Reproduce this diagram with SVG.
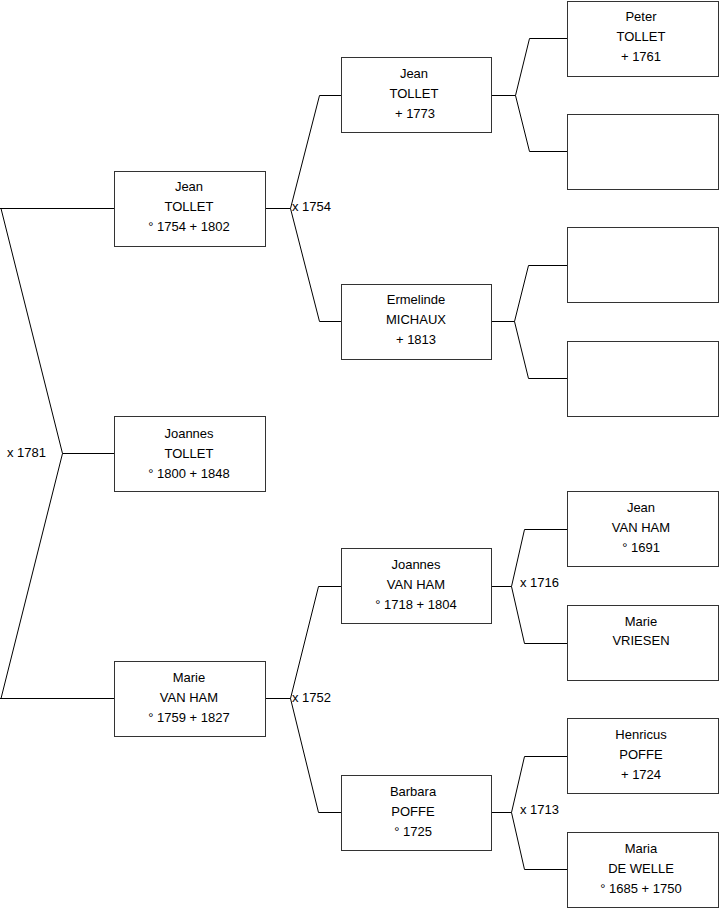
<svg xmlns="http://www.w3.org/2000/svg" width="719" height="908" viewBox="0 0 719 908">
<style>
.b{fill:#fff;stroke:#333;stroke-width:1}
.t{font-family:"Liberation Sans",Arial,sans-serif;font-size:13px;fill:#000;text-anchor:middle}
.l{font-family:"Liberation Sans",Arial,sans-serif;font-size:13px;fill:#000}
.c{fill:none;stroke:#000;stroke-width:1}
</style>
<rect width="719" height="908" fill="#fff"/>
<g id="connectors">
<path class="c" d="M0,208.5H114.5M1,208.5L62.5,453.5L1,698.5M62.5,453.5H114.5M0,698.5H114.5"/>
<path class="c" d="M265.5,208.5H290.5L319.5,95.5H341.5M290.5,208.5L319.5,321.5H341.5"/>
<path class="c" d="M265.5,698.5H290.5L318.5,586.5H341.5M290.5,698.5L318.5,812.5H341.5"/>
<path class="c" d="M491.5,95.5H515.5L529.5,38.5H567.5M515.5,95.5L529.5,151.5H567.5"/>
<path class="c" d="M491.5,321.5H514.5L528.5,265.5H567.5M514.5,321.5L528.5,378.5H567.5"/>
<path class="c" d="M491.5,586.5H511.5L524.5,529.5H567.5M511.5,586.5L524.5,643.5H567.5"/>
<path class="c" d="M491.5,812.5H511.5L524.5,756.5H567.5M511.5,812.5L524.5,869.5H567.5"/>
<text class="l" x="7" y="457">x 1781</text>
<text class="l" x="292" y="211">x 1754</text>
<text class="l" x="292" y="702">x 1752</text>
<text class="l" x="520" y="587">x 1716</text>
<text class="l" x="520" y="814">x 1713</text>
</g>
<g id="n-jean-tollet-1754"><rect class="b" x="114.5" y="171.5" width="151" height="75"/><text class="t" x="189" y="191">Jean</text><text class="t" x="189" y="211">TOLLET</text><text class="t" x="189" y="231">° 1754 + 1802</text></g>
<g id="n-joannes-tollet"><rect class="b" x="114.5" y="416.5" width="151" height="75"/><text class="t" x="189" y="438">Joannes</text><text class="t" x="189" y="458">TOLLET</text><text class="t" x="189" y="478">° 1800 + 1848</text></g>
<g id="n-marie-van-ham"><rect class="b" x="114.5" y="661.5" width="151" height="75"/><text class="t" x="189" y="682">Marie</text><text class="t" x="189" y="702">VAN HAM</text><text class="t" x="189" y="722">° 1759 + 1827</text></g>
<g id="n-jean-tollet-1773"><rect class="b" x="341.5" y="57.5" width="150" height="75"/><text class="t" x="414" y="78">Jean</text><text class="t" x="414" y="98">TOLLET</text><text class="t" x="415" y="118">+ 1773</text></g>
<g id="n-ermelinde"><rect class="b" x="341.5" y="284.5" width="150" height="75"/><text class="t" x="416" y="304">Ermelinde</text><text class="t" x="416" y="324">MICHAUX</text><text class="t" x="416" y="344">+ 1813</text></g>
<g id="n-joannes-van-ham"><rect class="b" x="341.5" y="548.5" width="150" height="75"/><text class="t" x="416" y="569">Joannes</text><text class="t" x="416" y="589">VAN HAM</text><text class="t" x="416" y="609">° 1718 + 1804</text></g>
<g id="n-barbara"><rect class="b" x="341.5" y="775.5" width="150" height="75"/><text class="t" x="413" y="796">Barbara</text><text class="t" x="413" y="816">POFFE</text><text class="t" x="413" y="836">° 1725</text></g>
<g id="n-peter"><rect class="b" x="567.5" y="1.5" width="151" height="75"/><text class="t" x="641" y="21">Peter</text><text class="t" x="641" y="41">TOLLET</text><text class="t" x="641" y="61">+ 1761</text></g>
<g id="n-empty1"><rect class="b" x="567.5" y="114.5" width="151" height="75"/></g>
<g id="n-empty2"><rect class="b" x="567.5" y="227.5" width="151" height="75"/></g>
<g id="n-empty3"><rect class="b" x="567.5" y="341.5" width="151" height="75"/></g>
<g id="n-jean-van-ham"><rect class="b" x="567.5" y="491.5" width="151" height="75"/><text class="t" x="641" y="512">Jean</text><text class="t" x="641" y="532">VAN HAM</text><text class="t" x="641" y="552">° 1691</text></g>
<g id="n-marie-vriesen"><rect class="b" x="567.5" y="605.5" width="151" height="75"/><text class="t" x="641" y="626">Marie</text><text class="t" x="641" y="645">VRIESEN</text></g>
<g id="n-henricus"><rect class="b" x="567.5" y="718.5" width="151" height="75"/><text class="t" x="641" y="739">Henricus</text><text class="t" x="641" y="759">POFFE</text><text class="t" x="641" y="779">+ 1724</text></g>
<g id="n-maria"><rect class="b" x="567.5" y="832.5" width="151" height="75"/><text class="t" x="641" y="853">Maria</text><text class="t" x="641" y="873">DE WELLE</text><text class="t" x="641" y="893">° 1685 + 1750</text></g>
</svg>
